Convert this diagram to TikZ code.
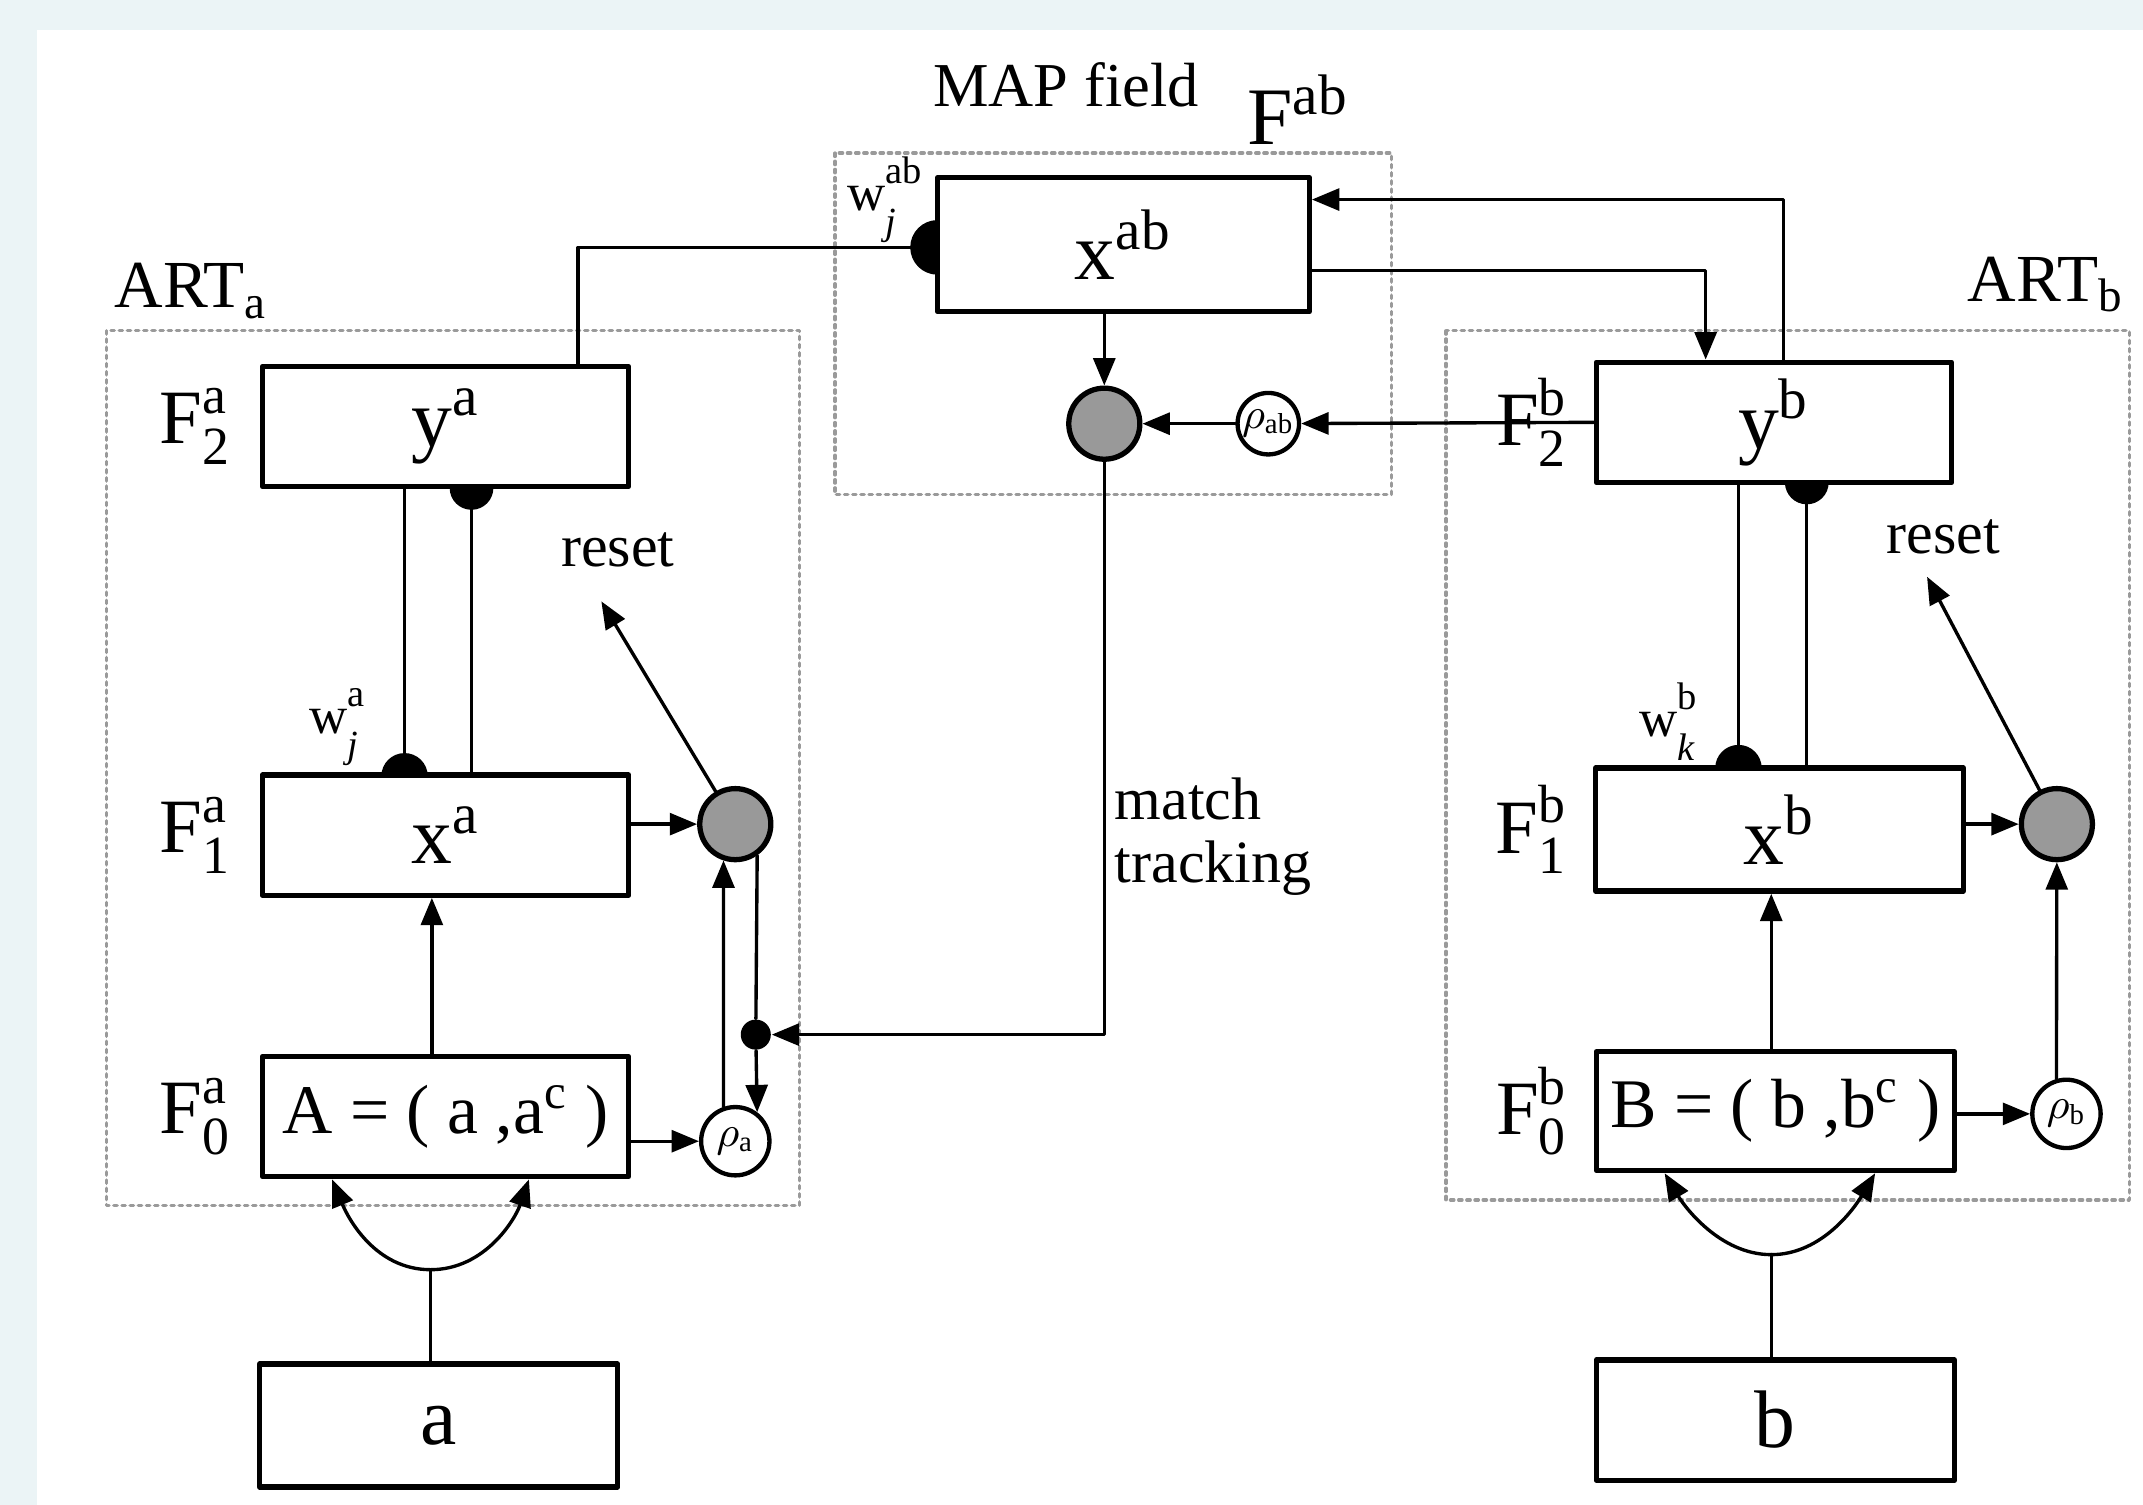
\documentclass[tikz,border=0pt]{standalone}
\usepackage{fontspec}
\setmainfont{Liberation Serif}
\usepackage{amsmath}
\usetikzlibrary{arrows.meta,positioning}

\definecolor{bandblue}{HTML}{EBF4F6}
\definecolor{framegray}{HTML}{9A9A9A}

\newcommand{\Flab}[2]{$\text{F}^{\text{#1}}_{\text{#2}}$}
\newcommand{\Wlab}[2]{w\rlap{\raisebox{1.1ex}{\fontsize{8}{8}\selectfont #1}}\raisebox{-1ex}{\fontsize{8}{8}\selectfont\itshape #2}}

\begin{document}
\begin{tikzpicture}[x=0.1mm, y=-0.1mm,
		every node/.style={inner sep=0pt},
		layer/.style={draw, line width=1.1pt, minimum width=26.8mm, minimum height=8.8mm, font=\fontsize{17}{17}\selectfont},
		inlayer/.style={layer, font=\fontsize{14.5}{14.5}\selectfont},
		gain/.style={circle, draw, line width=1.1pt, fill=black!40, minimum size=5.2mm},
		vig/.style={circle, draw, line width=0.9pt, fill=white, minimum size=5mm, font=\fontsize{9}{9}\selectfont},
		junct/.style={circle, fill, minimum size=2.2mm},
		flab/.style={font=\fontsize{16}{16}\selectfont},
		lab/.style={font=\fontsize{12.5}{13}\selectfont},
		wlab/.style={font=\fontsize{11}{11}\selectfont},
		grp/.style={font=\fontsize{14}{14}\selectfont},
		frame/.style={draw=framegray, densely dotted, line width=0.7pt},
		conn/.style={line width=0.7pt},
		arr/.style={conn, -{Triangle[length=2mm,width=1.6mm]}},
		line cap=round,
		line join=round
		]
		
		% ---- background ----
		\fill[bandblue] (0,0) rectangle (1568,1101);
		\fill[white] (27,22) rectangle (1568,1101);
		\useasboundingbox (0,0) rectangle (1568,1101);
		
		% ---- modules ----
		\draw[frame] (611,112) rectangle (1018,362);
		\draw[frame] (78,242) rectangle (585,882);
		\draw[frame] (1058,242) rectangle (1558,878);
		
		\node[lab, font=\fontsize{13}{13}\selectfont] (mapt) at (780,62) {MAP field};
		\node[font=\fontsize{17}{17}\selectfont] (fab) at (950,80) {F\textsuperscript{ab}};
		\node[grp] (arta) at (140,213) {ART\textsubscript{a}};
		\node[grp] (artb) at (1497,208) {ART\textsubscript{b}};
		
		% ---- map field ----
		\node[layer, minimum width=27.2mm, minimum height=9.8mm] (xab) at (822,179) {x\textsuperscript{ab}};
		\node[gain] (mab) at (808,310) {};
		\node[vig, minimum size=4.5mm] (rab) at (928,310) {$\rho_{\text{ab}}$};
		\node[wlab] (wablab) at (638,146) {\Wlab{ab}{j}};
		\node[lab, align=left, anchor=west] (mtrk) at (815,612) {match\\tracking};
		
		% ---- ART a ----
		\node[layer] (ya) at (326,312) {y\textsuperscript{a}};
		\node[layer] (xa) at (326,611) {x\textsuperscript{a}};
		\node[inlayer] (Aa) at (326,817) {A = ( a ,a\textsuperscript{c} )};
		\node[layer, minimum width=26.2mm, minimum height=9mm] (ina) at (321,1043) {a};
		\node[flab, left=2mm of ya] (f2a) {\Flab{a}{2}};
		\node[flab, left=2mm of xa] (f1a) {\Flab{a}{1}};
		\node[flab, left=2mm of Aa] (f0a) {\Flab{a}{0}};
		\node[gain] (reseta) at (538,603) {};
		\node[vig] (rhoa) at (538,835) {$\rho_{\text{a}}$};
		\node[junct] (dota) at (553,757) {};
		\node[lab] (rsta) at (452,402) {reset};
		\node[wlab] (walab) at (244,532) {\Wlab{a}{j}};
		\coordinate (wadn) at (345,357);
		\coordinate (waup) at (296,568);
		\coordinate (wabw) at (686,181);
		\coordinate (joina) at (315,929);
		\coordinate (rstatip) at (440,440);
		
		% ---- ART b ----
		\node[layer, minimum width=26mm] (yb) at (1298,309) {y\textsuperscript{b}};
		\node[layer, minimum width=26.9mm, minimum height=9mm] (xb) at (1302,607) {x\textsuperscript{b}};
		\node[inlayer, minimum width=26.2mm, minimum height=8.7mm] (Bb) at (1299,813) {B = ( b ,b\textsuperscript{c} )};
		\node[layer, minimum width=26.2mm, minimum height=8.8mm] (inb) at (1299,1039) {b};
		\node[flab, left=1.8mm of yb] (f2b) {\Flab{b}{2}};
		\node[flab, left=1.8mm of xb] (f1b) {\Flab{b}{1}};
		\node[flab, left=1.8mm of Bb] (f0b) {\Flab{b}{0}};
		\node[gain] (resetb) at (1505,603) {};
		\node[vig] (rhob) at (1512,815) {$\rho_{\text{b}}$};
		\node[lab] (rstb) at (1422,393) {reset};
		\node[wlab] (wblab) at (1220,528) {\Wlab{b}{k}};
		\coordinate (wbdn) at (1322,353);
		\coordinate (wbup) at (1272,562);
		\coordinate (joinb) at (1296,918);
		\coordinate (rstbtip) at (1410,422);
		
		% ---- connections, map field ----
		\draw[conn] (ya.north -| 423,0) |- (wabw);
		\draw[arr] (yb.north -| 1305,0) |- (xab.east |- 0,146);
		\draw[arr] (xab.east |- 0,198) -| (yb.north -| 1248,0);
		\draw[arr] (xab.south -| mab) -- (mab);
		\draw[arr] (rab) -- (mab);
		\draw[arr] (yb.west) -- (rab);
		\draw[arr] (mab) |- (dota);
		
		% ---- connections, ART a ----
		\draw[conn] (ya.south -| waup) -- (waup);
		\draw[conn] (wadn) -- (xa.north -| wadn);
		\draw[arr] (xa.east |- reseta) -- (reseta);
		\draw[arr] (reseta.121) -- (rstatip);
		\draw[arr] (Aa.north -| 316,0) -- (xa.south -| 316,0);
		\draw[arr] (Aa.east |- rhoa) -- (rhoa);
		\draw[arr] (rhoa.109) -- (reseta.-108);
		\draw[conn] (reseta.-55) -- (dota);
		\draw[arr] (dota) -- (rhoa.53);
		\draw[conn] (joina) -- (joina |- ina.north);
		\draw[arr] (joina) .. controls (275,929) and (255,892) .. (Aa.south -| 243,0);
		\draw[arr] (joina) .. controls (355,929) and (377,892) .. (Aa.south -| 387,0);
		
		% ---- connections, ART b ----
		\draw[conn] (yb.south -| wbup) -- (wbup);
		\draw[conn] (wbdn) -- (xb.north -| wbdn);
		\draw[arr] (xb.east |- resetb) -- (resetb);
		\draw[arr] (resetb.117) -- (rstbtip);
		\draw[arr] (Bb.north -| 1296,0) -- (xb.south -| 1296,0);
		\draw[arr] (Bb.east |- rhob) -- (rhob);
		\draw[arr] (rhob.106) -- (resetb);
		\draw[conn] (joinb) -- (joinb |- inb.north);
		\draw[arr] (joinb) .. controls (1258,918) and (1232,882) .. (Bb.south -| 1218,0);
		\draw[arr] (joinb) .. controls (1334,918) and (1358,882) .. (Bb.south -| 1372,0);
		
		% ---- weights ----
		\fill (wabw) ++(0,2mm) arc[start angle=90, end angle=270, radius=2mm] -- cycle;
		\fill (wadn) ++(-1.6mm,0) arc[start angle=180, end angle=360, radius=1.6mm] -- cycle;
		\fill (waup) ++(-1.7mm,0) arc[start angle=180, end angle=0, radius=1.7mm] -- cycle;
		\fill (wbdn) ++(-1.6mm,0) arc[start angle=180, end angle=360, radius=1.6mm] -- cycle;
		\fill (wbup) ++(-1.7mm,0) arc[start angle=180, end angle=0, radius=1.7mm] -- cycle;
	\end{tikzpicture}
\end{document}
